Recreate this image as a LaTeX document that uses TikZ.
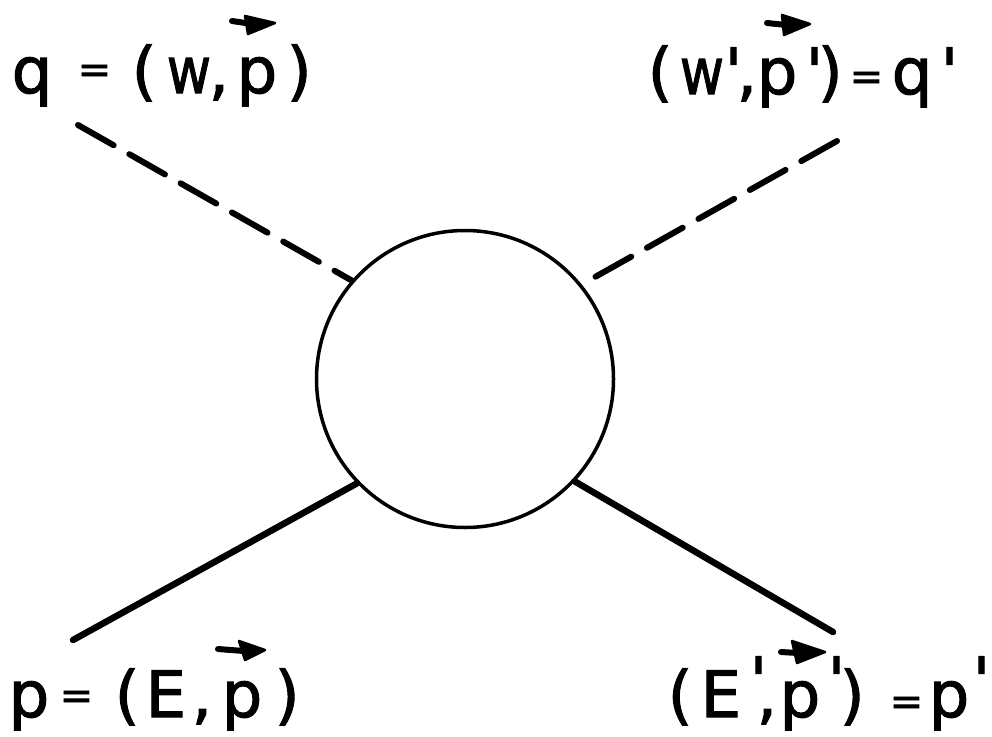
\documentclass[tikz,border=0pt]{standalone}
\usepackage{fontspec}
\setmainfont{DejaVu Sans}[FakeBold=1.6]
\newcommand\at[2]{\makebox[0pt][l]{\hspace*{#1pt}#2}}
\newcommand\eqs[1]{\raisebox{#1pt}{\fontsize{40}{40}\selectfont =}}
\newcommand\ww{\scalebox{0.85}[1]{w}}
\newcommand\prm{\textquotesingle}
\newcommand\prr{\raisebox{14pt}{\textquotesingle}}
\tikzset{
  lab/.style={anchor=base west, inner sep=0pt, font=\fontsize{64}{64}\selectfont},
  blobstyle/.style={circle, draw, line width=3.5pt, minimum size=297pt, inner sep=0pt},
  dashline/.style={line width=6pt, line cap=round, dash pattern=on 41pt off 18pt},
  solidline/.style={line width=6.5pt, line cap=round},
  vtail/.style={line width=6pt, line cap=round},
  vhead/.style={fill=black, draw=black, line width=2.5pt, line join=round}
}
\begin{document}
\begin{tikzpicture}[x=1pt,y=-1pt]
\useasboundingbox (0,0) rectangle (992,736);
% central blob
\node[blobstyle] (blob) at (465,379) {};
% external legs
\coordinate (tl) at (78,125);
\coordinate (tr) at (837,141);
\coordinate (bl) at (73,640);
\coordinate (br) at (833,632);
\draw[dashline] (tl) -- (blob.139);
\draw[dashline] (tr) -- (blob.39);
\draw[solidline] (bl) -- (blob.224);
\draw[solidline] (br) -- (blob.317);
% labels
\node[lab] (lq) at (0,93) {\at{11}{q}\at{77}{\eqs{10}}\at{131}{(}\at{166}{\ww}\at{208}{,}\at{236}{p}\at{286}{)}};
\node[lab] (lqp) at (0,94) {\at{647}{(}\at{679}{\ww}\at{724}{\prm}\at{736}{,}\at{756}{p}\at{805}{\prm}\at{817}{)}\at{849}{\eqs{4}}\at{891}{q}\at{940}{\prm}};
\node[lab] (lp) at (0,717) {\at{8}{p}\at{59}{\eqs{8}}\at{114}{(}\at{145}{E}\at{191}{,}\at{221}{p}\at{274}{)}};
\node[lab] (lpp) at (0,717) {\at{667}{(}\at{700}{E}\at{749}{\prr}\at{756}{,}\at{779}{p}\at{827}{\prr}\at{839}{)}\at{889}{\eqs{2}}\at{928}{p}\at{972}{\prr}};
% vector arrows
\draw[vtail] (232,21) -- (252,24);
\fill[vhead] (245,16) -- (275,23) -- (248,34) -- cycle;
\draw[vtail] (767,23) -- (786,25);
\fill[vhead] (782,15) -- (810,24) -- (784,35) -- cycle;
\draw[vtail] (218,649) -- (244,651);
\fill[vhead] (239,641) -- (265,650) -- (245,660) -- cycle;
\draw[vtail] (781,652) -- (798,653);
\fill[vhead] (792,641) -- (825,652) -- (797,663) -- cycle;
\end{tikzpicture}
\end{document}
